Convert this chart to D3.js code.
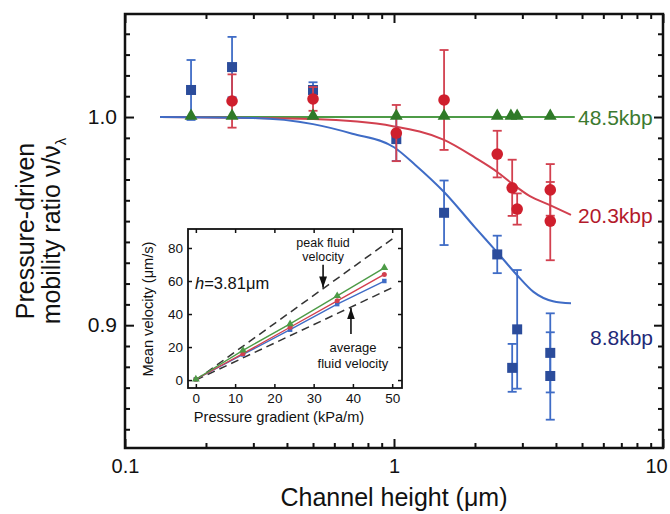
<!DOCTYPE html>
<html><head><meta charset="utf-8">
<script src="https://cdn.jsdelivr.net/npm/d3@7"></script>
<style>
body{margin:0;background:#fff;}
text{font-family:"Liberation Sans",Arial,Helvetica,sans-serif;}
</style></head>
<body>
<script>
// ---------- data (main plot) ----------
const xMajorTicks = [0.1, 1, 10];
const xMajorLabels = ["0.1", "1", "10"];
const xMinorTicks = [0.2,0.3,0.4,0.5,0.6,0.7,0.8,0.9,2,3,4,5,6,7,8,9];
const yMajorTicks = [0.9, 1.0];
const yMajorLabels = ["0.9", "1.0"];
const yMinorTicks = [0.85,0.86,0.87,0.88,0.89,0.91,0.92,0.93,0.94,0.95,0.96,0.97,0.98,0.99,1.01,1.02,1.03,1.04];

const blueX   = [0.176, 0.25, 0.5, 1.02, 1.535, 2.42, 2.75, 2.87, 3.81, 3.81];
const blueY   = [1.013, 1.024, 1.013, 0.9894, 0.954, 0.934, 0.8795, 0.898, 0.8867, 0.8756];
const blueErr = [0.0144, 0.0145, 0.0037, 0.0105, 0.0155, 0.009, 0.0115, 0.0285, 0.019, 0.021];

const redX   = [0.25, 0.5, 1.02, 1.535, 2.42, 2.75, 2.87, 3.81, 3.81];
const redY   = [1.0077, 1.0087, 0.9923, 1.0082, 0.9822, 0.966, 0.9558, 0.965, 0.950];
const redErr = [0.0128, 0.0057, 0.0135, 0.024, 0.0112, 0.0135, 0.0075, 0.0124, 0.0188];

const greenX = [0.176, 0.25, 0.5, 1.02, 1.535, 2.42, 2.72, 2.87, 3.81];
const greenY = [1.0, 1.0, 1.0, 1.0, 1.0, 1.0, 1.0, 1.0, 1.0];

const blueCurveX = [0.135, 0.3, 0.5, 0.7, 1.0, 1.2, 1.535, 2.0, 2.42, 2.87, 3.3, 3.9, 4.55];
const blueCurveY = [1.0, 0.9995, 0.9966, 0.992, 0.9855, 0.977, 0.964, 0.947, 0.935, 0.924, 0.916, 0.9115, 0.9105];
const redCurveX = [0.135, 0.5, 1.0, 1.535, 2.0, 2.42, 2.75, 3.2, 3.8, 4.55];
const redCurveY = [1.0, 0.999, 0.9955, 0.989, 0.9805, 0.9736, 0.968, 0.962, 0.9577, 0.953];
const greenCurveX = [0.135, 4.7];
const greenCurveY = [1.0, 1.0];

const seriesLabels = ["48.5kbp", "20.3kbp", "8.8kbp"];

// ---------- data (inset) ----------
const insetXTicks = [0, 10, 20, 30, 40, 50];
const insetYTicks = [0, 20, 40, 60, 80];
const insetX = [0, 12, 24, 36, 48];
const insetGreen = [0.5, 18, 34, 51, 68];
const insetRed = [0.5, 16, 32, 48, 64];
const insetBlue = [0.5, 15.5, 30.5, 46, 60];
const peakLineX = [0, 50.5], peakLineY = [0, 86.3];
const avgLineX = [0, 50.5], avgLineY = [0, 56.5];

// ---------- colours ----------
const C = {
  blueMark:"#2b4c9b", blueLine:"#3f6cc6", blueText:"#1f2a78",
  redMark:"#cf1f2d", redLine:"#d2404f", redText:"#b3192b",
  greenMark:"#2f7a28", greenLine:"#4d9b47", greenText:"#3c7a30"
};

const W = 670, H = 514;
const svg = d3.select("body").append("svg").attr("width", W).attr("height", H);

const L = 125, R = 663, T = 14, B = 448;
const x = d3.scaleLog().domain([0.1, 10]).range([L, R]);
const y = d3.scaleLinear().domain([0.841, 1.0495]).range([B, T]);

// clip
svg.append("defs").append("clipPath").attr("id","plotclip")
  .append("rect").attr("x",L).attr("y",T).attr("width",R-L).attr("height",B-T);
svg.select("defs").append("marker").attr("id","arrow")
  .attr("viewBox","0 0 10 10").attr("refX",10).attr("refY",5)
  .attr("markerWidth",7).attr("markerHeight",7).attr("orient","auto")
  .append("path").attr("d","M0,1.5 L10,5 L0,8.5 Z").attr("fill","#111");

function styleAxis(g, sw){
  g.select(".domain").remove();
  g.selectAll(".tick line").attr("stroke","#111").attr("stroke-width", sw);
}

// axes
svg.append("g").attr("transform",`translate(0,${B})`)
  .call(d3.axisBottom(x).tickValues(xMajorTicks).tickFormat((d,i)=>xMajorLabels[i]).tickSizeInner(-9).tickSizeOuter(0).tickPadding(11))
  .call(g=>{
    styleAxis(g,2);
    g.selectAll("text").attr("font-size",20).attr("fill","#111").style("font-family","'Liberation Sans',Arial,sans-serif");
    g.selectAll("text").filter(d=>d===10).attr("x",-7);
  });
svg.append("g").attr("transform",`translate(0,${B})`)
  .call(d3.axisBottom(x).tickValues(xMinorTicks).tickFormat("").tickSizeInner(-5).tickSizeOuter(0))
  .call(g=>styleAxis(g,2));
svg.append("g").attr("transform",`translate(0,${T})`)
  .call(d3.axisTop(x).tickValues(xMajorTicks).tickFormat("").tickSizeInner(-9).tickSizeOuter(0))
  .call(g=>styleAxis(g,2));
svg.append("g").attr("transform",`translate(0,${T})`)
  .call(d3.axisTop(x).tickValues(xMinorTicks).tickFormat("").tickSizeInner(-5).tickSizeOuter(0))
  .call(g=>styleAxis(g,2));

svg.append("g").attr("transform",`translate(${L},0)`)
  .call(d3.axisLeft(y).tickValues(yMajorTicks).tickFormat((d,i)=>yMajorLabels[i]).tickSizeInner(-9).tickSizeOuter(0).tickPadding(8))
  .call(g=>{styleAxis(g,2); g.selectAll("text").attr("font-size",21).attr("fill","#111").style("font-family","'Liberation Sans',Arial,sans-serif");});
svg.append("g").attr("transform",`translate(${L},0)`)
  .call(d3.axisLeft(y).tickValues(yMinorTicks).tickFormat("").tickSizeInner(-5).tickSizeOuter(0))
  .call(g=>styleAxis(g,2));
svg.append("g").attr("transform",`translate(${R},0)`)
  .call(d3.axisRight(y).tickValues(yMajorTicks).tickFormat("").tickSizeInner(-9).tickSizeOuter(0))
  .call(g=>styleAxis(g,2));
svg.append("g").attr("transform",`translate(${R},0)`)
  .call(d3.axisRight(y).tickValues(yMinorTicks).tickFormat("").tickSizeInner(-5).tickSizeOuter(0))
  .call(g=>styleAxis(g,2));

svg.append("rect").attr("x",L).attr("y",T).attr("width",R-L).attr("height",B-T)
  .attr("fill","none").attr("stroke","#111").attr("stroke-width",2.5);

// axis titles
svg.append("text").attr("x",(L+R)/2).attr("y",506).attr("text-anchor","middle")
  .attr("font-size",25).attr("fill","#111").text("Channel height (μm)");
const yt = svg.append("g").attr("transform",`translate(0,${(T+B)/2}) rotate(-90)`);
yt.append("text").attr("x",0).attr("y",34).attr("text-anchor","middle")
  .attr("font-size",25).attr("fill","#111").text("Pressure-driven");
const yt2 = yt.append("text").attr("x",0).attr("y",60).attr("text-anchor","middle")
  .attr("font-size",25).attr("fill","#111");
yt2.append("tspan").text("mobility ratio ν/ν");
yt2.append("tspan").attr("font-size",15).attr("dy",6).text("λ");

// plot layer
const P = svg.append("g").attr("clip-path","url(#plotclip)");
const line = d3.line().x(d=>x(d[0])).y(d=>y(d[1])).curve(d3.curveMonotoneX);
P.append("path").datum(d3.zip(greenCurveX, greenCurveY)).attr("d",line)
  .attr("fill","none").attr("stroke",C.greenLine).attr("stroke-width",2);
P.append("path").datum(d3.zip(redCurveX, redCurveY)).attr("d",line)
  .attr("fill","none").attr("stroke",C.redLine).attr("stroke-width",2);
P.append("path").datum(d3.zip(blueCurveX, blueCurveY)).attr("d",line)
  .attr("fill","none").attr("stroke",C.blueLine).attr("stroke-width",2);

function errBars(xs, ys, es, col){
  const g = P.append("g").attr("stroke",col).attr("stroke-width",1.8);
  xs.forEach((xv,i)=>{
    const cx = x(xv), y1 = y(ys[i]-es[i]), y2 = y(ys[i]+es[i]);
    g.append("line").attr("x1",cx).attr("x2",cx).attr("y1",y1).attr("y2",y2);
    g.append("line").attr("x1",cx-4.5).attr("x2",cx+4.5).attr("y1",y1).attr("y2",y1);
    g.append("line").attr("x1",cx-4.5).attr("x2",cx+4.5).attr("y1",y2).attr("y2",y2);
  });
}
errBars(blueX, blueY, blueErr, C.blueLine);
P.append("g").selectAll("rect").data(d3.zip(blueX, blueY)).join("rect")
  .attr("x",d=>x(d[0])-5).attr("y",d=>y(d[1])-5).attr("width",10).attr("height",10)
  .attr("fill",C.blueMark);
errBars(redX, redY, redErr, C.redLine);
P.append("g").selectAll("circle").data(d3.zip(redX, redY)).join("circle")
  .attr("cx",d=>x(d[0])).attr("cy",d=>y(d[1])).attr("r",5.8).attr("fill",C.redMark);
const tri = d3.symbol().type(d3.symbolTriangle).size(72);
P.append("g").selectAll("path").data(d3.zip(greenX, greenY)).join("path")
  .attr("transform",d=>`translate(${x(d[0])},${y(d[1])-1})`).attr("d",tri).attr("fill",C.greenMark);

// series labels
svg.append("text").attr("x",578).attr("y",y(1.0)+7.5).attr("font-size",21).attr("fill",C.greenText).text(seriesLabels[0]);
svg.append("text").attr("x",578).attr("y",y(0.9528)+7.5).attr("font-size",21).attr("fill",C.redText).text(seriesLabels[1]);
svg.append("text").attr("x",590).attr("y",y(0.894)+7.5).attr("font-size",21).attr("fill",C.blueText).text(seriesLabels[2]);

// ---------- inset ----------
const iL = 188, iR = 402, iT = 229, iB = 388;
const ix = d3.scaleLinear().domain([-2, 52.5]).range([iL, iR]);
const iy = d3.scaleLinear().domain([-4.8, 91.5]).range([iB, iT]);
svg.append("rect").attr("x",iL).attr("y",iT).attr("width",iR-iL).attr("height",iB-iT).attr("fill","#fff");

const fnt = "'Liberation Sans',Arial,sans-serif";
svg.append("g").attr("transform",`translate(0,${iB})`)
  .call(d3.axisBottom(ix).tickValues(insetXTicks).tickSizeInner(-4).tickSizeOuter(0).tickPadding(5))
  .call(g=>{styleAxis(g,1.5); g.selectAll("text").attr("font-size",13.5).attr("fill","#111").style("font-family",fnt);});
svg.append("g").attr("transform",`translate(0,${iT})`)
  .call(d3.axisTop(ix).tickValues(insetXTicks).tickFormat("").tickSizeInner(-4).tickSizeOuter(0))
  .call(g=>styleAxis(g,1.5));
svg.append("g").attr("transform",`translate(${iL},0)`)
  .call(d3.axisLeft(iy).tickValues(insetYTicks).tickSizeInner(-4).tickSizeOuter(0).tickPadding(5))
  .call(g=>{styleAxis(g,1.5); g.selectAll("text").attr("font-size",13.5).attr("fill","#111").style("font-family",fnt);});
svg.append("g").attr("transform",`translate(${iR},0)`)
  .call(d3.axisRight(iy).tickValues(insetYTicks).tickFormat("").tickSizeInner(-4).tickSizeOuter(0))
  .call(g=>styleAxis(g,1.5));
svg.append("rect").attr("x",iL).attr("y",iT).attr("width",iR-iL).attr("height",iB-iT)
  .attr("fill","none").attr("stroke","#111").attr("stroke-width",1.8);

const iline = d3.line().x(d=>ix(d[0])).y(d=>iy(d[1]));
[[peakLineX,peakLineY],[avgLineX,avgLineY]].forEach(([xs,ys])=>{
  svg.append("path").datum(d3.zip(xs,ys)).attr("d",iline).attr("fill","none")
    .attr("stroke","#333").attr("stroke-width",1.5).attr("stroke-dasharray","8,5");
});
const iSeries = [[insetBlue,C.blueLine,"sq"],[insetRed,C.redLine,"ci"],[insetGreen,C.greenLine,"tr"]];
iSeries.forEach(([ys,col,m])=>{
  const pts = d3.zip(insetX, ys);
  svg.append("path").datum(pts).attr("d",iline).attr("fill","none").attr("stroke",col).attr("stroke-width",1.4);
  const sym = d3.symbol().type(m==="sq"?d3.symbolSquare:(m==="ci"?d3.symbolCircle:d3.symbolTriangle)).size(m==="tr"?26:20);
  svg.append("g").selectAll("path").data(pts).join("path")
    .attr("transform",d=>`translate(${ix(d[0])},${iy(d[1])})`).attr("d",sym).attr("fill",col);
});

// inset texts
svg.append("text").attr("x",279).attr("y",422).attr("text-anchor","middle").attr("font-size",14.6)
  .attr("fill","#111").text("Pressure gradient (kPa/m)");
svg.append("text").attr("transform",`translate(153,309) rotate(-90)`).attr("text-anchor","middle")
  .attr("font-size",14.6).attr("fill","#111").text("Mean velocity (μm/s)");
const ht = svg.append("text").attr("x",195).attr("y",289).attr("font-size",16.5).attr("fill","#111");
ht.append("tspan").attr("font-style","italic").text("h");
ht.append("tspan").text("=3.81μm");

// annotations
const peakTipX = 32.4, avgTipX = 39.5;
const pSlope = peakLineY[1]/peakLineX[1], aSlope = avgLineY[1]/avgLineX[1];
const pt = [ix(peakTipX), iy(pSlope*peakTipX)];
svg.append("line").attr("x1",pt[0]).attr("x2",pt[0]).attr("y1",pt[1]-24).attr("y2",pt[1]-1)
  .attr("stroke","#111").attr("stroke-width",1.6).attr("marker-end","url(#arrow)");
const at = [ix(avgTipX), iy(aSlope*avgTipX)];
svg.append("line").attr("x1",at[0]).attr("x2",at[0]).attr("y1",at[1]+27).attr("y2",at[1]+1)
  .attr("stroke","#111").attr("stroke-width",1.6).attr("marker-end","url(#arrow)");
svg.append("text").attr("x",pt[0]).attr("y",pt[1]-42).attr("text-anchor","middle").attr("font-size",12.5).attr("fill","#111").text("peak fluid");
svg.append("text").attr("x",pt[0]).attr("y",pt[1]-28).attr("text-anchor","middle").attr("font-size",12.5).attr("fill","#111").text("velocity");
svg.append("text").attr("x",at[0]+2).attr("y",at[1]+45).attr("text-anchor","middle").attr("font-size",13).attr("fill","#111").text("average");
svg.append("text").attr("x",at[0]+2).attr("y",at[1]+61).attr("text-anchor","middle").attr("font-size",13).attr("fill","#111").text("fluid velocity");
</script>
</body></html>
